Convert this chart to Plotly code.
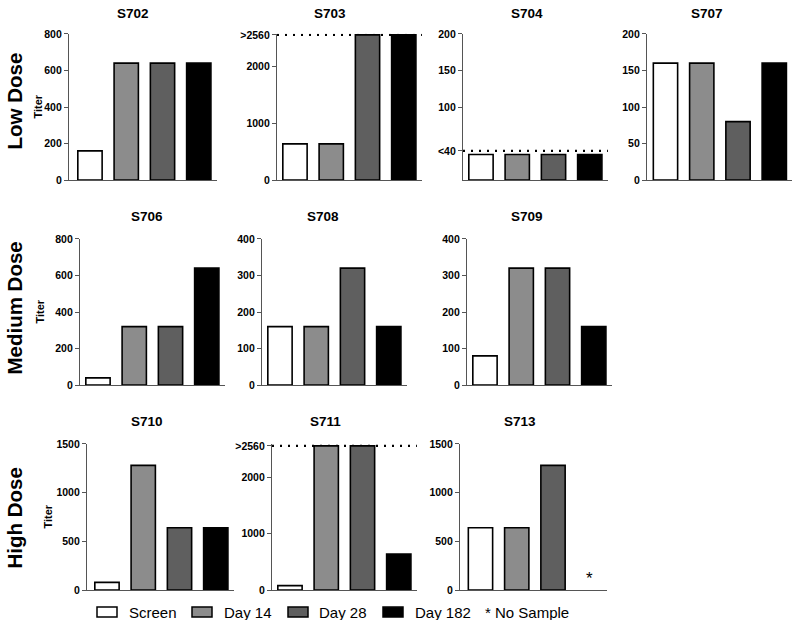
import plotly.graph_objects as go

# ---------------- data ----------------
timepoints = ["Screen", "Day 14", "Day 28", "Day 182"]
colors = ["#ffffff", "#8c8c8c", "#5f5f5f", "#000000"]

S702 = [160, 640, 640, 640]
S703 = [640, 640, 2560, 2560]
S704 = [35, 35, 35, 35]
S707 = [160, 160, 80, 160]
S706 = [40, 320, 320, 640]
S708 = [160, 160, 320, 160]
S709 = [80, 320, 320, 160]
S710 = [80, 1280, 640, 640]
S711 = [80, 2560, 2560, 640]
S713 = [640, 640, 1280, None]

row_labels = ["Low Dose", "Medium Dose", "High Dose"]
legend_labels = ["Screen", "Day 14", "Day 28", "Day 182"]
no_sample_text = "* No Sample"

# tick definitions
ticks_800 = ([0, 200, 400, 600, 800], ["0", "200", "400", "600", "800"])
ticks_2560 = ([0, 1000, 2000, 2560], ["0", "1000", "2000", ">2560"])
ticks_200 = ([0, 50, 100, 150, 200], ["0", "50", "100", "150", "200"])
ticks_lt40 = ([40, 100, 150, 200], ["<40", "100", "150", "200"])
ticks_400 = ([0, 100, 200, 300, 400], ["0", "100", "200", "300", "400"])
ticks_1500 = ([0, 500, 1000, 1500], ["0", "500", "1000", "1500"])

W, H = 793, 620          # reference frame used for positions
FIG_H = 629              # page viewport is slightly taller than the photographed frame
FONT = "Liberation Sans, Arial, sans-serif"
SP = 36.3  # px per category

# (name, values, ymax, ticks, dotted_line_value, axis_x_px, first_center_px, top_px, bottom_px, title_x_px, title_y_px)
panels = [
    ("S702", S702, 800, ticks_800, None, 69, 90, 28, 175, 133, 8),
    ("S703", S703, 2560 * 147 / 146, ticks_2560, 2560, 277, 295, 28, 175, 330, 8),
    ("S704", S704, 200, ticks_lt40, 40, 463, 481, 28, 175, 527, 8),
    ("S707", S707, 200, ticks_200, None, 647, 665.5, 28, 175, 707, 8),
    ("S706", S706, 800, ticks_800, None, 80, 98, 234, 381, 147, 212),
    ("S708", S708, 400, ticks_400, None, 262, 280, 234, 381, 323, 212),
    ("S709", S709, 400, ticks_400, None, 467, 485, 234, 381, 527, 212),
    ("S710", S710, 1500, ticks_1500, None, 87, 107, 440, 587, 147, 418),
    ("S711", S711, 2560 * 147 / 145, ticks_2560, 2560, 272, 290, 440, 587, 325, 418),
    ("S713", S713, 1500, ticks_1500, None, 460, 480.5, 440, 587, 520, 418),
]

fig = go.Figure()
layout = dict(
    width=W, height=FIG_H, margin=dict(l=0, r=0, t=0, b=0),
    plot_bgcolor="white", paper_bgcolor="white", showlegend=False,
    font=dict(family=FONT, color="black"),
)
annotations = []
shapes = []

for i, (name, vals, ymax, ticks, dline, ax_px, c0, top, bot, tx, ty) in enumerate(panels):
    k = "" if i == 0 else str(i + 1)
    xa, ya = "x" + k, "y" + k
    fig.add_trace(go.Bar(
        x=timepoints, y=vals, xaxis=xa, yaxis=ya, width=0.67,
        marker=dict(color=colors, line=dict(color="black", width=1.6)),
        hoverinfo="x+y",
    ))
    right_px = c0 + 3 * SP + 18
    layout["xaxis" + k] = dict(
        domain=[ax_px / W, min(right_px / W, 1.0)], anchor=ya,
        range=[-(c0 - ax_px) / SP, 3.5],
        showline=True, linecolor="#555", linewidth=1.2,
        showticklabels=False, ticks="", showgrid=False, zeroline=False,
        type="category", categoryorder="array", categoryarray=timepoints,
    )
    layout["yaxis" + k] = dict(
        domain=[1 - bot / H, 1 - top / H], anchor=xa,
        range=[0, ymax],
        showline=True, linecolor="#555", linewidth=1.2,
        ticks="outside", ticklen=4, tickwidth=1, tickcolor="#555",
        tickvals=ticks[0], ticktext=ticks[1],
        tickfont=dict(family=FONT, size=10.5, color="black", weight="bold"),
        showgrid=False, zeroline=False,
    )
    annotations.append(dict(
        text="<b>%s</b>" % name, x=tx / W, y=1 - ty / H, xref="paper", yref="paper",
        showarrow=False, font=dict(family=FONT, size=13.5, color="black"),
        xanchor="center", yanchor="middle",
    ))
    if dline is not None:
        shapes.append(dict(
            type="line", xref=xa + " domain", yref=ya, x0=0, x1=1, y0=dline, y1=dline,
            line=dict(color="black", width=2.2, dash="2px,6px"), layer="below",
        ))

# asterisk for missing S713 sample
annotations.append(dict(
    text="*", x="Day 182", y=0, xref="x10", yref="y10", showarrow=False,
    font=dict(family=FONT, size=17, color="black"), yanchor="bottom", yshift=0,
))

# Titer labels
for (xp, yp) in [(38, 101), (40, 307), (48, 513)]:
    annotations.append(dict(
        text="<b>Titer</b>", x=xp / W, y=1 - yp / H, xref="paper", yref="paper",
        showarrow=False, textangle=-90, font=dict(family=FONT, size=11, color="black"),
        xanchor="center", yanchor="middle",
    ))

# Row labels
for lab, yp in zip(row_labels, [96, 304, 515]):
    annotations.append(dict(
        text="<b>%s</b>" % lab, x=15 / W, y=1 - yp / H, xref="paper", yref="paper",
        showarrow=False, textangle=-90, font=dict(family=FONT, size=20.5, color="black"),
        xanchor="center", yanchor="middle",
    ))

# Custom legend
box_x = [97, 192, 288, 383]
text_x = [127, 222, 317, 413]
ly = 609
for bx, txp, col, lab in zip(box_x, text_x, colors, legend_labels):
    shapes.append(dict(
        type="rect", xref="paper", yref="paper",
        x0=bx / W, x1=(bx + 20) / W, y0=1 - (ly + 5) / H, y1=1 - (ly - 5) / H,
        fillcolor=col, line=dict(color="black", width=1.5),
    ))
    annotations.append(dict(
        text=lab, x=txp / W, y=1 - ly / H, xref="paper", yref="paper",
        showarrow=False, xanchor="left", yanchor="middle",
        font=dict(family=FONT, size=15, color="black"),
    ))
annotations.append(dict(
    text=no_sample_text, x=483 / W, y=1 - ly / H, xref="paper", yref="paper",
    showarrow=False, xanchor="left", yanchor="middle",
    font=dict(family=FONT, size=15, color="black"),
))

layout["annotations"] = annotations
layout["shapes"] = shapes
fig.update_layout(**layout)
fig.write_html(
    "out.html",
    config={"displayModeBar": False},
    post_script="document.body.style.margin='0';document.body.style.overflow='hidden';",
)
